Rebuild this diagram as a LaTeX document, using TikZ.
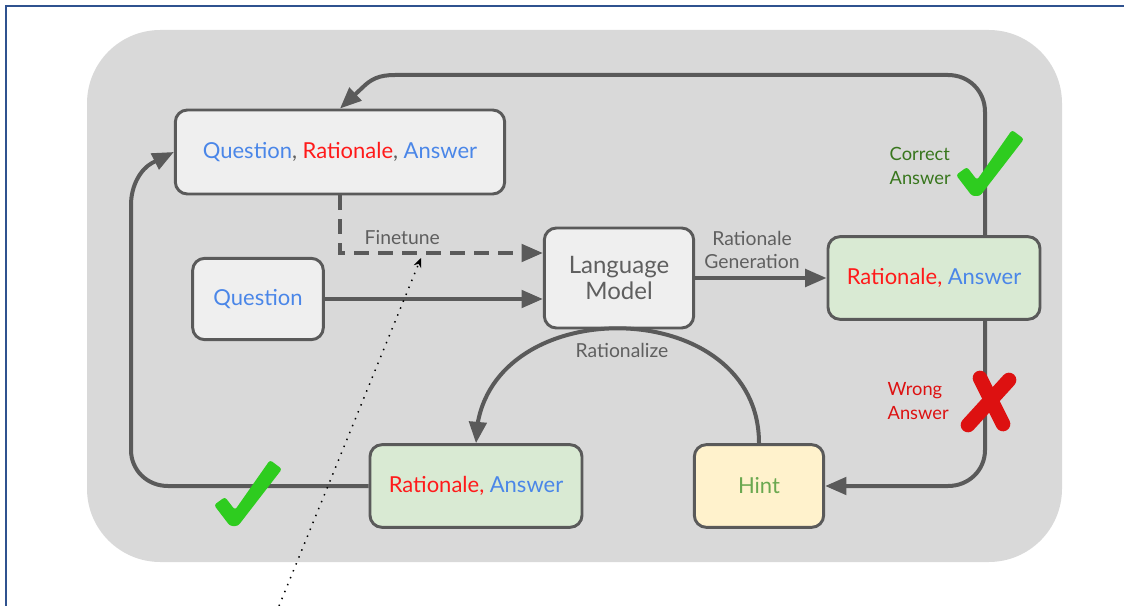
\documentclass[tikz,border=0pt]{standalone}
\usepackage{fontspec}
\setmainfont{Lato}
\usetikzlibrary{arrows.meta, bending, positioning, calc}

\definecolor{qblue}{HTML}{4A86E8}
\definecolor{rred}{HTML}{FF1A1A}
\definecolor{edge}{HTML}{5A5A5A}
\definecolor{boxgray}{HTML}{EFEFEF}
\definecolor{okgreen}{HTML}{D9EAD3}
\definecolor{hintyellow}{HTML}{FFF2CC}
\definecolor{hintgreen}{HTML}{6AA84F}
\definecolor{darkgreen}{HTML}{38761D}
\definecolor{wrongred}{HTML}{DD1111}
\definecolor{lblgray}{HTML}{5F5F5F}
\definecolor{bggray}{HTML}{D9D9D9}
\definecolor{tickgreen}{HTML}{2ECC1F}
\definecolor{framebl}{HTML}{2F528F}

\begin{document}
\begin{tikzpicture}[x=0.75pt, y=-0.75pt, font=\fontsize{16.5}{20}\selectfont,
  box/.style={draw=edge, line width=2.2pt, fill=boxgray, rounded corners=9pt,
              align=center, inner sep=2pt, text=lblgray},
  ok/.style={box, fill=okgreen},
  lbl/.style={font=\fontsize{14.5}{17.5}\selectfont, text=lblgray, align=center},
  verdict/.style={lbl, font=\fontsize{13.7}{17.5}\selectfont, align=left, anchor=west},
  arr/.style={-{Triangle[length=16pt,width=13pt,flex]}, draw=edge, line width=3pt},
  tick/.pic={\fill[tickgreen, rounded corners=2pt] (-19,-15) -- (-8,-23) -- (2,-10)
             -- (37,-60) -- (49,-51) -- (5,6) -- (-3,6) -- cycle;}
]
\useasboundingbox (0,0) rectangle (1124,606);
\fill[bggray, rounded corners=55pt] (87,30) rectangle (1062,562);
\draw[framebl, line width=2.2pt] (1124,6) -- (6,6) -- (6,606);

\node[box, minimum width=247pt, minimum height=63pt] (qra) at (340,152)
  {\textcolor{qblue}{Question}, \textcolor{rred}{Rationale}, \textcolor{qblue}{Answer}};
\node[box, minimum width=98pt, minimum height=61pt] (q) at (258,299) {\textcolor{qblue}{Question}};
\node[box, minimum width=112pt, minimum height=75pt, font=\fontsize{18}{20}\selectfont] (lm)
  at (619,278) {Language\\Model};
\node[ok, minimum width=159pt, minimum height=62pt] (rar) at (934,278)
  {\textcolor{rred}{Rationale,} \textcolor{qblue}{Answer}};
\node[ok, minimum width=159pt, minimum height=62pt] (rab) at (476,486)
  {\textcolor{rred}{Rationale,} \textcolor{qblue}{Answer}};
\node[box, fill=hintyellow, text=hintgreen, minimum width=97pt, minimum height=62pt] (hint)
  at (759,486) {Hint};

\draw[arr] (q.east) -- (q.east -| lm.west);
\draw[arr, dash pattern=on 11pt off 7pt] (qra.south) |- ($(lm.west)+(0,-25)$);
\draw[arr] (lm.east) -- (rar.west);
% correct: back to the training set
\draw[arr] ($(rar.north)+(51,0)$) -- (985,112) .. controls (985,91) and (969,75) .. (948,75)
  -- (395,75) .. controls (379,75) and (371,79) .. (362,88) -- (qra.north);
% wrong: ask again with a hint
\draw[arr] ($(rar.south)+(51,0)$) -- (985,450) .. controls (985,470) and (969,486) .. (948,486)
  -- (hint.east);
\draw[arr] (rab.west) -- (168,486) .. controls (147,486) and (131,470) .. (131,450)
  -- (131,205) .. controls (131,185) and (141,169) .. (152,163) -- (qra.west);
\draw[arr] (hint.north) .. controls (759,290) and (476,290) .. (rab.north);

\node[lbl, anchor=west] (ft) at (360,238) {Finetune};
\node[lbl] (rg) at (752,250) {Rationale\\Generation};
\node[lbl] (rz) at (622,350) {Rationalize};
\node[verdict, text=darkgreen] (ca) at (885,166) {Correct\\Answer};
\node[verdict, text=wrongred] (wa) at (883,401) {Wrong\\Answer};

% marks on the loops
\pic at (975,190) {tick};
\pic at (233,520) {tick};
\draw[wrongred, line width=11pt, line cap=round] (980,378) -- (1003,424);
\draw[wrongred, line width=11pt, line cap=round] (1009,380) -- (968,425);

\coordinate (pbot) at (279,606);
\coordinate (ptip) at (421,258);
\draw[black, line width=1.1pt, dash pattern=on 1.1pt off 4.5pt,
      -{Stealth[length=7pt,width=6pt]}] (pbot) -- (ptip);
\end{tikzpicture}
\end{document}
